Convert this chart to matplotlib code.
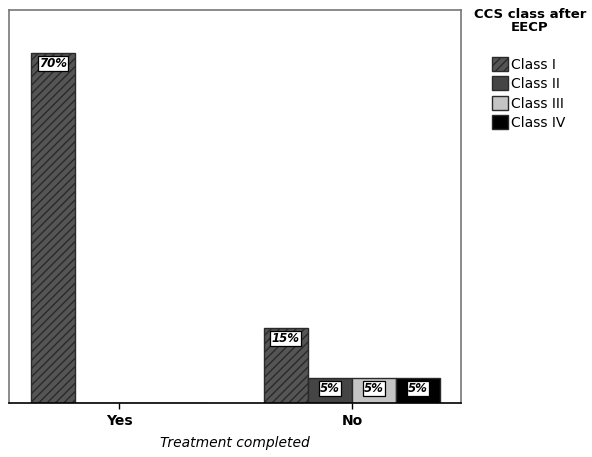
import matplotlib.pyplot as plt
import numpy as np

groups = ["Yes", "No"]
classes = ["Class I", "Class II", "Class III", "Class IV"]
# percent per class for each group (Yes, No)
values = {
    "Class I": [70, 15],
    "Class II": [0, 5],
    "Class III": [0, 5],
    "Class IV": [0, 5],
}
colors = ["#555555", "#454545", "#c4c4c4", "#000000"]
hatches = ["////", None, None, None]

fig = plt.figure(figsize=(5.92, 4.57), dpi=100)
ax = fig.add_axes([9 / 592, 54 / 457, 452 / 592, 393 / 457])

x = np.arange(len(groups))
w = 0.189
handles = []
for i, cls in enumerate(classes):
    pos = x + (i - 1.5) * w
    vals = values[cls]
    b = ax.bar(pos, vals, w, color=colors[i], edgecolor="#2a2a2a", linewidth=1.0,
               hatch=hatches[i], label=cls)
    handles.append(b)
    for px, v in zip(pos, vals):
        if v > 0:
            ax.text(px, v - 0.8, f"{v}%", ha="center", va="top", fontsize=8.5,
                    fontweight="bold", fontstyle="italic", color="black",
                    bbox=dict(boxstyle="square,pad=0.12", fc="white", ec="black", lw=0.9))

ax.set_xlim(-0.472, 1.468)
ax.set_ylim(0, 78.6)
ax.set_yticks([])
ax.set_xticks(x)
ax.set_xticklabels(groups, fontsize=10, fontweight="bold")
ax.tick_params(axis="x", length=4, width=1, pad=4)
for s in ["left", "top", "right"]:
    ax.spines[s].set_color("#777777")
    ax.spines[s].set_linewidth(1.2)
ax.spines["bottom"].set_color("black")
ax.spines["bottom"].set_linewidth(1.2)
ax.set_xlabel("Treatment completed", fontsize=10, fontstyle="italic", labelpad=6)

fig.text(530 / 592, 1 - 8 / 457, "CCS class after\nEECP", ha="center", va="top",
         fontsize=9.5, fontweight="bold", linespacing=1.0)
leg = fig.legend(handles=handles, labels=classes, loc="upper left",
                 bbox_to_anchor=(492 / 592, 1 - 57 / 457), frameon=False,
                 fontsize=10, handlelength=1.15, handleheight=1.15, handletextpad=0.2,
                 labelspacing=0.35, borderaxespad=0, borderpad=0)

fig.savefig("out.png", dpi=100)
